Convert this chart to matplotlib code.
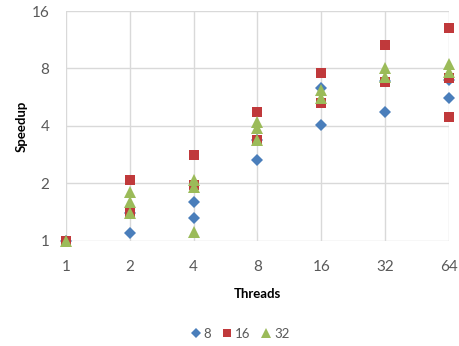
import matplotlib.pyplot as plt
from matplotlib.ticker import FixedLocator, NullLocator

plt.rcParams['font.family'] = ['Lato', 'DejaVu Sans']

threads = [1, 2, 4, 8, 16, 32, 64]

# measured speedups, several runs per thread count
speedup_8 = [
    [1.0],
    [1.10, 1.40],
    [1.32, 1.60],
    [2.65, 3.38],
    [4.05, 6.3],
    [4.74, 6.9],
    [5.6, 6.97],
]
speedup_16 = [
    [1.0],
    [1.40, 2.09],
    [1.96, 2.82],
    [3.38, 4.74],
    [5.28, 7.58],
    [6.8, 10.6],
    [4.46, 7.1, 13.0],
]
speedup_32 = [
    [1.0],
    [1.40, 1.60, 1.80],
    [1.11, 1.92, 2.08],
    [3.38, 3.9, 4.2],
    [5.6, 6.2],
    [7.2, 8.0],
    [7.7, 8.4],
]

series = [
    ('8', speedup_8, 'D', '#4a7ebb', 6.0),
    ('16', speedup_16, 's', '#c0393b', 7.0),
    ('32', speedup_32, '^', '#9bbb59', 8.0),
]

fig = plt.figure(figsize=(4.59, 3.46), dpi=100)
ax = fig.add_axes([0.1438, 0.3035, 0.834, 0.6647])

for name, runs, marker, color, size in series:
    xs = [t for t, vals in zip(threads, runs) for _ in vals]
    ys = [v for vals in runs for v in vals]
    ax.plot(xs, ys, linestyle='none', marker=marker, color=color,
            markersize=size, markeredgewidth=0, label=name, clip_on=False,
            zorder=3)

ax.set_xscale('log', base=2)
ax.set_yscale('log', base=2)
ax.set_xlim(1, 64)
ax.set_ylim(1, 16)

ax.xaxis.set_major_locator(FixedLocator(threads))
ax.xaxis.set_minor_locator(NullLocator())
ax.set_xticklabels([str(t) for t in threads])
ax.yaxis.set_major_locator(FixedLocator([1, 2, 4, 8, 16]))
ax.yaxis.set_minor_locator(NullLocator())
ax.set_yticklabels(['1', '2', '4', '8', '16'])

ax.grid(True, color='#d9d9d9', linewidth=1)
ax.set_axisbelow(True)
for side in ax.spines.values():
    side.set_visible(False)
ax.tick_params(length=0, labelsize=11, colors='#595959')
ax.tick_params(axis='x', pad=14)
ax.tick_params(axis='y', pad=12)

ax.set_xlabel('Threads', fontsize=9.5, fontweight='bold', labelpad=10)
ax.set_ylabel('Speedup', fontsize=9.5, fontweight='bold', labelpad=3)

fig.legend(loc='center', bbox_to_anchor=(0.52, 0.035), ncol=3, frameon=False,
           fontsize=9.5, labelcolor='#595959', handletextpad=0.0,
           handlelength=1.2, columnspacing=0.6, markerscale=0.9)

fig.savefig('out.png', dpi=100)
